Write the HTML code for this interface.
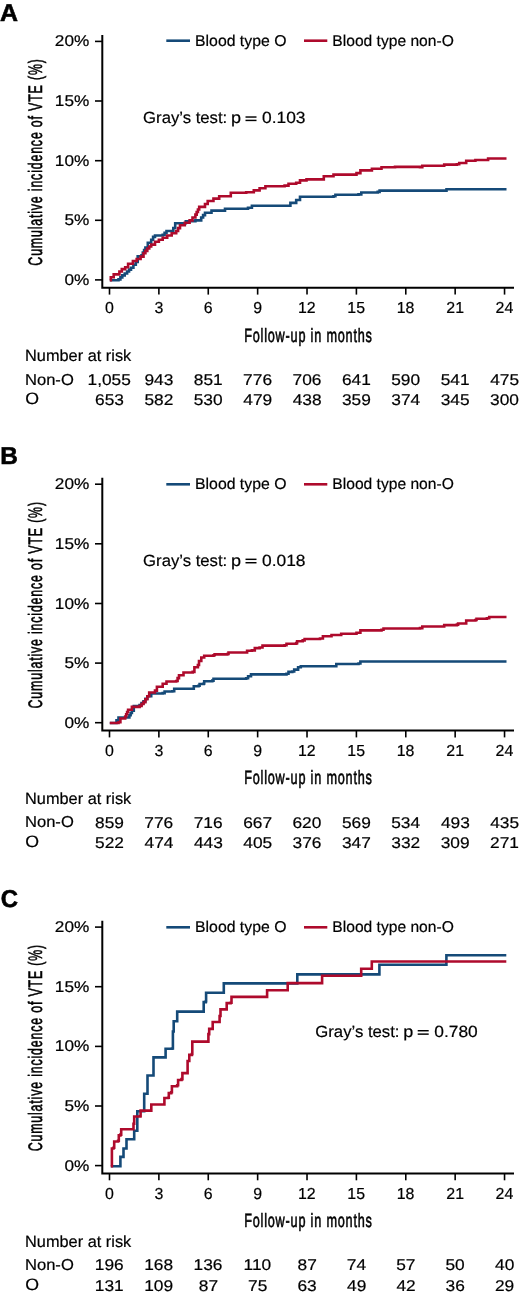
<!DOCTYPE html>
<html><head><meta charset="utf-8"><style>
html,body{margin:0;padding:0;background:#fff;}
svg{display:block;}
text{font-family:"Liberation Sans",sans-serif;fill:#000;text-rendering:geometricPrecision;stroke:#000;stroke-width:0.2px;}
</style></head><body>
<svg width="520" height="1295" viewBox="0 0 520 1295" style="will-change:transform">
<g transform="translate(0,0.00)">
<path d="M102.3,35 V287.7 H514" fill="none" stroke="#000" stroke-width="2.0"/>
<path d="M95,41.4 H102" stroke="#000" stroke-width="1.6"/>
<path d="M95,101.0 H102" stroke="#000" stroke-width="1.6"/>
<path d="M95,160.7 H102" stroke="#000" stroke-width="1.6"/>
<path d="M95,220.3 H102" stroke="#000" stroke-width="1.6"/>
<path d="M95,279.9 H102" stroke="#000" stroke-width="1.6"/>
<path d="M109.50,288 V294.6" stroke="#000" stroke-width="1.6"/>
<path d="M158.88,288 V294.6" stroke="#000" stroke-width="1.6"/>
<path d="M208.26,288 V294.6" stroke="#000" stroke-width="1.6"/>
<path d="M257.64,288 V294.6" stroke="#000" stroke-width="1.6"/>
<path d="M307.02,288 V294.6" stroke="#000" stroke-width="1.6"/>
<path d="M356.40,288 V294.6" stroke="#000" stroke-width="1.6"/>
<path d="M405.78,288 V294.6" stroke="#000" stroke-width="1.6"/>
<path d="M455.16,288 V294.6" stroke="#000" stroke-width="1.6"/>
<path d="M504.54,288 V294.6" stroke="#000" stroke-width="1.6"/>
<path d="M166.3,40.70 H190" stroke="#154a78" stroke-width="2.6"/>
<path d="M304,40.70 H327.3" stroke="#ae0a2c" stroke-width="2.6"/>
<rect x="245.50" y="116.30" width="11.0" height="1.45"/>
<rect x="245.50" y="119.70" width="11.0" height="1.45"/>
<path d="M109.80,280.20H118.50V279.40H120.40V277.40H122.30V275.40H124.70V273.45H127.10V271.50H129.05V269.60H131.00V267.70H133.40V264.80H135.80V261.90H137.70V256.20H141.50V255.20H142.80V252.63H144.10V250.07H145.40V247.50H147.80V242.70H151.20V239.80H153.10V236.90H155.00V235.50H162.70V234.80H164.60V232.90H166.50V231.00H173.30V228.00H175.20V223.30H185.80V221.30H195.40V220.40H201.20V217.50H203.10V215.10H205.00V212.70H211.50V210.60H225.00V208.70H248.00V207.70H251.90V205.80H284.60H290.40V202.90H296.20V200.00H300.00V196.70H333.50V196.20H335.40V194.80H358.50V194.40H361.30V192.50H377.70V191.90H379.60V190.60H395.00H445.40H446.50V189.30H506.50" fill="none" stroke="#154a78" stroke-width="2.6"/>
<path d="M109.80,280.20H110.80V277.30H113.70V274.40H119.40V271.50H121.80V269.10H125.20V267.20H128.10V263.80H132.90V261.00H136.70V259.00H140.60V256.60H143.50V253.30H145.40V250.90H147.30V248.50H149.25V246.55H151.20V244.60H155.00V241.70H158.85V239.70H162.70V237.70H167.20V235.47H171.70V233.23H176.20V231.00H178.10V228.10H180.00V225.20H184.80V222.80H189.60V220.40H192.50V217.50H195.40V214.60H196.67V212.03H197.93V209.47H199.20V206.90H205.00V204.00H207.70V201.00H213.45V198.60H219.20V196.20H230.80V192.70H246.20V192.30H253.80V190.40H259.60V188.30H265.40V186.20H284.60V185.60H288.50V183.70H296.20V182.70H300.00V180.40H306.50V179.40H320.00H323.80V176.20H333.50V174.60H356.50V173.10H360.40V170.40H371.90V168.80H381.50V167.30H395.00V166.90H420.00V167.20H422.30V165.80H441.90H444.20V164.60H456.90V164.20H459.20V163.00H463.80H466.20V160.70H475.40V160.00H488.10V158.50H506.50" fill="none" stroke="#ae0a2c" stroke-width="2.6"/>
<text transform="translate(-0.11,20.80) scale(1.0205,1)" font-size="24.4" font-weight="bold" style="stroke-width:0.6px">A</text>
<text transform="translate(54.81,46.45) scale(1.1100,1)" font-size="15.5">20%</text>
<text transform="translate(54.81,106.05) scale(1.1100,1)" font-size="15.5">15%</text>
<text transform="translate(54.81,165.75) scale(1.1100,1)" font-size="15.5">10%</text>
<text transform="translate(64.54,225.35) scale(1.1100,1)" font-size="15.5">5%</text>
<text transform="translate(64.54,284.95) scale(1.1100,1)" font-size="15.5">0%</text>
<text transform="translate(105.08,313.35) scale(1.0000,1)" font-size="15.9">0</text>
<text transform="translate(154.46,313.35) scale(1.0000,1)" font-size="15.9">3</text>
<text transform="translate(203.79,313.35) scale(1.0000,1)" font-size="15.9">6</text>
<text transform="translate(253.22,313.35) scale(1.0000,1)" font-size="15.9">9</text>
<text transform="translate(298.03,313.35) scale(1.0000,1)" font-size="15.9">12</text>
<text transform="translate(347.36,313.35) scale(1.0000,1)" font-size="15.9">15</text>
<text transform="translate(396.78,313.35) scale(1.0000,1)" font-size="15.9">18</text>
<text transform="translate(446.37,313.35) scale(1.0000,1)" font-size="15.9">21</text>
<text transform="translate(495.61,313.35) scale(1.0000,1)" font-size="15.9">24</text>
<text transform="translate(244.16,341.60) scale(0.6572,1)" font-size="19.3" letter-spacing="1.217" style="stroke-width:0.6px">Follow-up in months</text>
<text transform="translate(41.50,265.65) rotate(-90) scale(0.6380,1)" font-size="19.5" letter-spacing="1.254" style="stroke-width:0.6px">Cumulative incidence of VTE (%)</text>
<text transform="translate(195.03,45.50) scale(1.0141,1)" font-size="15.6">Blood type O</text>
<text transform="translate(332.35,45.50) scale(1.0009,1)" font-size="15.6">Blood type non-O</text>
<text transform="translate(143.08,123.25) scale(1.0321,1)" font-size="16.2">Gray’s test:</text>
<text transform="translate(231.02,123.25) scale(1.1129,1)" font-size="16.2">p</text>
<text transform="translate(262.05,123.25) scale(1.0736,1)" font-size="16.2">0.103</text>
<text transform="translate(25.04,361.20) scale(1.0089,1)" font-size="16.2">Number at risk</text>
<text transform="translate(24.97,384.60) scale(1.0491,1)" font-size="15.8">Non-O</text>
<text transform="translate(25.17,404.40) scale(1.0729,1)" font-size="16.5">O</text>
<text transform="translate(87.51,384.75) scale(1.1170,1)" font-size="15.5">1,055</text>
<text transform="translate(95.02,404.85) scale(1.1170,1)" font-size="15.5">653</text>
<text transform="translate(144.42,384.75) scale(1.1170,1)" font-size="15.5">943</text>
<text transform="translate(144.38,404.85) scale(1.1170,1)" font-size="15.5">582</text>
<text transform="translate(193.82,384.75) scale(1.1170,1)" font-size="15.5">851</text>
<text transform="translate(193.69,404.85) scale(1.1170,1)" font-size="15.5">530</text>
<text transform="translate(243.12,384.75) scale(1.1170,1)" font-size="15.5">776</text>
<text transform="translate(243.36,404.85) scale(1.1170,1)" font-size="15.5">479</text>
<text transform="translate(292.50,384.75) scale(1.1170,1)" font-size="15.5">706</text>
<text transform="translate(292.74,404.85) scale(1.1170,1)" font-size="15.5">438</text>
<text transform="translate(341.91,384.75) scale(1.1170,1)" font-size="15.5">641</text>
<text transform="translate(341.94,404.85) scale(1.1170,1)" font-size="15.5">359</text>
<text transform="translate(391.21,384.75) scale(1.1170,1)" font-size="15.5">590</text>
<text transform="translate(391.26,404.85) scale(1.1170,1)" font-size="15.5">374</text>
<text transform="translate(440.65,384.75) scale(1.1170,1)" font-size="15.5">541</text>
<text transform="translate(440.67,404.85) scale(1.1170,1)" font-size="15.5">345</text>
<text transform="translate(490.23,384.75) scale(1.1170,1)" font-size="15.5">475</text>
<text transform="translate(490.01,404.85) scale(1.1170,1)" font-size="15.5">300</text>
</g>
<g transform="translate(0,442.80)">
<path d="M102.3,35 V287.7 H514" fill="none" stroke="#000" stroke-width="2.0"/>
<path d="M95,41.4 H102" stroke="#000" stroke-width="1.6"/>
<path d="M95,101.0 H102" stroke="#000" stroke-width="1.6"/>
<path d="M95,160.7 H102" stroke="#000" stroke-width="1.6"/>
<path d="M95,220.3 H102" stroke="#000" stroke-width="1.6"/>
<path d="M95,279.9 H102" stroke="#000" stroke-width="1.6"/>
<path d="M109.50,288 V294.6" stroke="#000" stroke-width="1.6"/>
<path d="M158.88,288 V294.6" stroke="#000" stroke-width="1.6"/>
<path d="M208.26,288 V294.6" stroke="#000" stroke-width="1.6"/>
<path d="M257.64,288 V294.6" stroke="#000" stroke-width="1.6"/>
<path d="M307.02,288 V294.6" stroke="#000" stroke-width="1.6"/>
<path d="M356.40,288 V294.6" stroke="#000" stroke-width="1.6"/>
<path d="M405.78,288 V294.6" stroke="#000" stroke-width="1.6"/>
<path d="M455.16,288 V294.6" stroke="#000" stroke-width="1.6"/>
<path d="M504.54,288 V294.6" stroke="#000" stroke-width="1.6"/>
<path d="M166.3,41.50 H190" stroke="#154a78" stroke-width="2.6"/>
<path d="M304,41.50 H327.3" stroke="#ae0a2c" stroke-width="2.6"/>
<rect x="245.50" y="115.80" width="11.0" height="1.45"/>
<rect x="245.50" y="119.20" width="11.0" height="1.45"/>
<path d="M109.80,280.20H116.50V277.60H118.50V274.70H128.10H129.37V272.47H130.63V270.23H131.90V268.00H133.80V263.20H139.60V262.20H141.55V260.30H143.50V258.40H145.40V255.95H147.30V253.50H151.20V250.70H162.70V250.30H164.60V248.70H172.30V248.40H174.20V245.90H193.30H193.80V243.50H198.50V243.00H199.60V241.20H203.70V240.70H204.20V238.40H212.30V237.80H213.50V236.00H246.20V235.50H248.10V233.50H251.00V231.60H286.50V231.00H288.50V229.10H292.30V228.70H294.20V226.80H298.10V224.50H300.80V223.50H334.40H336.30V221.20H358.50V220.70H360.40V218.70H506.50" fill="none" stroke="#154a78" stroke-width="2.6"/>
<path d="M109.80,280.20H118.50V279.50H120.40V275.70H125.20V273.70H126.17V271.47H127.13V269.23H128.10V267.00H131.90V264.10H139.60V263.20H141.55V261.25H143.50V259.30H145.40V256.40H147.30V253.50H149.20V249.70H155.00V247.80H156.90V243.90H162.70V241.00H166.50V238.70H176.20V238.20H177.60V235.30H179.00V232.40H183.50V229.70H192.70V229.10H194.40V224.50H197.90V222.20H199.00V218.20H201.30V214.70H204.20V213.00H213.50V212.40H214.60V211.60H227.30V211.20H228.50V209.70H245.20H247.10V208.00H251.90V207.60H254.80V205.30H259.60V204.70H262.50V202.80H284.60V202.40H286.50V200.90H296.20V200.30H297.10V198.50H302.70V197.60H304.60V196.20H320.00V195.70H322.90V193.40H331.50V192.20H341.20V190.90H356.50V189.90H360.40V187.60H381.50V187.00H383.50V185.70H420.00V185.30H422.30V183.70H441.90H444.20V182.30H456.90V181.80H458.10V180.70H463.80H466.20V177.70H475.40V177.20H476.50V176.00H486.90V175.40H489.20V174.20H506.50" fill="none" stroke="#ae0a2c" stroke-width="2.6"/>
<text transform="translate(0.37,20.75) scale(1.0003,1)" font-size="24.4" font-weight="bold" style="stroke-width:0.6px">B</text>
<text transform="translate(54.81,46.45) scale(1.1100,1)" font-size="15.5">20%</text>
<text transform="translate(54.81,106.05) scale(1.1100,1)" font-size="15.5">15%</text>
<text transform="translate(54.81,165.75) scale(1.1100,1)" font-size="15.5">10%</text>
<text transform="translate(64.54,225.35) scale(1.1100,1)" font-size="15.5">5%</text>
<text transform="translate(64.54,284.95) scale(1.1100,1)" font-size="15.5">0%</text>
<text transform="translate(105.08,313.35) scale(1.0000,1)" font-size="15.9">0</text>
<text transform="translate(154.46,313.35) scale(1.0000,1)" font-size="15.9">3</text>
<text transform="translate(203.79,313.35) scale(1.0000,1)" font-size="15.9">6</text>
<text transform="translate(253.22,313.35) scale(1.0000,1)" font-size="15.9">9</text>
<text transform="translate(298.03,313.35) scale(1.0000,1)" font-size="15.9">12</text>
<text transform="translate(347.36,313.35) scale(1.0000,1)" font-size="15.9">15</text>
<text transform="translate(396.78,313.35) scale(1.0000,1)" font-size="15.9">18</text>
<text transform="translate(446.37,313.35) scale(1.0000,1)" font-size="15.9">21</text>
<text transform="translate(495.61,313.35) scale(1.0000,1)" font-size="15.9">24</text>
<text transform="translate(244.16,341.60) scale(0.6572,1)" font-size="19.3" letter-spacing="1.217" style="stroke-width:0.6px">Follow-up in months</text>
<text transform="translate(41.50,265.65) rotate(-90) scale(0.6380,1)" font-size="19.5" letter-spacing="1.254" style="stroke-width:0.6px">Cumulative incidence of VTE (%)</text>
<text transform="translate(195.03,46.30) scale(1.0141,1)" font-size="15.6">Blood type O</text>
<text transform="translate(332.35,46.30) scale(1.0009,1)" font-size="15.6">Blood type non-O</text>
<text transform="translate(143.08,122.75) scale(1.0321,1)" font-size="16.2">Gray’s test:</text>
<text transform="translate(231.02,122.75) scale(1.1129,1)" font-size="16.2">p</text>
<text transform="translate(262.05,122.75) scale(1.0730,1)" font-size="16.2">0.018</text>
<text transform="translate(25.04,361.20) scale(1.0089,1)" font-size="16.2">Number at risk</text>
<text transform="translate(24.97,384.60) scale(1.0491,1)" font-size="15.8">Non-O</text>
<text transform="translate(25.17,404.40) scale(1.0729,1)" font-size="16.5">O</text>
<text transform="translate(95.06,384.75) scale(1.1170,1)" font-size="15.5">859</text>
<text transform="translate(95.00,404.85) scale(1.1170,1)" font-size="15.5">522</text>
<text transform="translate(144.36,384.75) scale(1.1170,1)" font-size="15.5">776</text>
<text transform="translate(144.54,404.85) scale(1.1170,1)" font-size="15.5">474</text>
<text transform="translate(193.74,384.75) scale(1.1170,1)" font-size="15.5">716</text>
<text transform="translate(193.99,404.85) scale(1.1170,1)" font-size="15.5">443</text>
<text transform="translate(243.17,384.75) scale(1.1170,1)" font-size="15.5">667</text>
<text transform="translate(243.33,404.85) scale(1.1170,1)" font-size="15.5">405</text>
<text transform="translate(292.46,384.75) scale(1.1170,1)" font-size="15.5">620</text>
<text transform="translate(292.54,404.85) scale(1.1170,1)" font-size="15.5">376</text>
<text transform="translate(341.89,384.75) scale(1.1170,1)" font-size="15.5">569</text>
<text transform="translate(341.96,404.85) scale(1.1170,1)" font-size="15.5">347</text>
<text transform="translate(391.22,384.75) scale(1.1170,1)" font-size="15.5">534</text>
<text transform="translate(391.33,404.85) scale(1.1170,1)" font-size="15.5">332</text>
<text transform="translate(440.89,384.75) scale(1.1170,1)" font-size="15.5">493</text>
<text transform="translate(440.70,404.85) scale(1.1170,1)" font-size="15.5">309</text>
<text transform="translate(490.23,384.75) scale(1.1170,1)" font-size="15.5">435</text>
<text transform="translate(490.08,404.85) scale(1.1170,1)" font-size="15.5">271</text>
</g>
<g transform="translate(0,885.70)">
<path d="M102.3,35 V287.7 H514" fill="none" stroke="#000" stroke-width="2.0"/>
<path d="M95,41.4 H102" stroke="#000" stroke-width="1.6"/>
<path d="M95,101.0 H102" stroke="#000" stroke-width="1.6"/>
<path d="M95,160.7 H102" stroke="#000" stroke-width="1.6"/>
<path d="M95,220.3 H102" stroke="#000" stroke-width="1.6"/>
<path d="M95,279.9 H102" stroke="#000" stroke-width="1.6"/>
<path d="M109.50,288 V294.6" stroke="#000" stroke-width="1.6"/>
<path d="M158.88,288 V294.6" stroke="#000" stroke-width="1.6"/>
<path d="M208.26,288 V294.6" stroke="#000" stroke-width="1.6"/>
<path d="M257.64,288 V294.6" stroke="#000" stroke-width="1.6"/>
<path d="M307.02,288 V294.6" stroke="#000" stroke-width="1.6"/>
<path d="M356.40,288 V294.6" stroke="#000" stroke-width="1.6"/>
<path d="M405.78,288 V294.6" stroke="#000" stroke-width="1.6"/>
<path d="M455.16,288 V294.6" stroke="#000" stroke-width="1.6"/>
<path d="M504.54,288 V294.6" stroke="#000" stroke-width="1.6"/>
<path d="M166.3,41.60 H190" stroke="#154a78" stroke-width="2.6"/>
<path d="M304,41.60 H327.3" stroke="#ae0a2c" stroke-width="2.6"/>
<rect x="417.70" y="144.30" width="11.0" height="1.45"/>
<rect x="417.70" y="147.70" width="11.0" height="1.45"/>
<path d="M110.80,280.50H120.40V271.20H122.70H123.50V262.80H125.80H126.50V253.50H133.50H134.20V245.10H136.50H137.30V234.30V225.50H144.20V208.10H147.50V189.80H153.20H153.50V171.70H165.10H165.60V163.10H172.00V162.80H172.90V145.80H173.70V135.50H177.20V135.10V125.90H203.20H203.70V116.40H205.80V115.50H206.10V107.10H223.50H223.80V97.70H296.90H297.30V88.70H378.80H379.40V79.10H446.40V69.50H506.30" fill="none" stroke="#154a78" stroke-width="2.6"/>
<path d="M110.80,280.50H111.90V272.80V262.80H113.50V262.00H114.20V255.80H118.10V255.10H118.80V249.70H120.40V248.90H121.20V243.50H132.70H133.50V238.10H134.20V230.80H140.20V230.50H140.60V224.90H151.00H151.30V218.80H164.00H164.40V212.30H168.10V212.00H168.80V207.40H171.20V206.60H171.90V200.50H177.20V199.50H178.10V194.30H181.50V193.40H182.40V187.40H186.70H187.60V175.30H189.30V169.20H191.90V168.30H192.30V155.90H207.50H208.40V148.40H209.20V143.20H212.70V142.40V136.30H219.60V130.30H220.50V123.70H225.80H226.70V117.40H230.60V117.00H231.50V111.20H267.10V104.50H287.30H287.70V97.40H321.60H322.10V90.00H360.80H361.20V83.00H371.30H371.80V75.80H506.30" fill="none" stroke="#ae0a2c" stroke-width="2.6"/>
<text transform="translate(0.77,20.90) scale(0.9798,1)" font-size="24.4" font-weight="bold" style="stroke-width:0.6px">C</text>
<text transform="translate(54.81,46.45) scale(1.1100,1)" font-size="15.5">20%</text>
<text transform="translate(54.81,106.05) scale(1.1100,1)" font-size="15.5">15%</text>
<text transform="translate(54.81,165.75) scale(1.1100,1)" font-size="15.5">10%</text>
<text transform="translate(64.54,225.35) scale(1.1100,1)" font-size="15.5">5%</text>
<text transform="translate(64.54,284.95) scale(1.1100,1)" font-size="15.5">0%</text>
<text transform="translate(105.08,313.35) scale(1.0000,1)" font-size="15.9">0</text>
<text transform="translate(154.46,313.35) scale(1.0000,1)" font-size="15.9">3</text>
<text transform="translate(203.79,313.35) scale(1.0000,1)" font-size="15.9">6</text>
<text transform="translate(253.22,313.35) scale(1.0000,1)" font-size="15.9">9</text>
<text transform="translate(298.03,313.35) scale(1.0000,1)" font-size="15.9">12</text>
<text transform="translate(347.36,313.35) scale(1.0000,1)" font-size="15.9">15</text>
<text transform="translate(396.78,313.35) scale(1.0000,1)" font-size="15.9">18</text>
<text transform="translate(446.37,313.35) scale(1.0000,1)" font-size="15.9">21</text>
<text transform="translate(495.61,313.35) scale(1.0000,1)" font-size="15.9">24</text>
<text transform="translate(244.16,341.60) scale(0.6572,1)" font-size="19.3" letter-spacing="1.217" style="stroke-width:0.6px">Follow-up in months</text>
<text transform="translate(41.50,265.65) rotate(-90) scale(0.6380,1)" font-size="19.5" letter-spacing="1.254" style="stroke-width:0.6px">Cumulative incidence of VTE (%)</text>
<text transform="translate(195.03,46.40) scale(1.0141,1)" font-size="15.6">Blood type O</text>
<text transform="translate(332.35,46.40) scale(1.0009,1)" font-size="15.6">Blood type non-O</text>
<text transform="translate(315.28,151.25) scale(1.0321,1)" font-size="16.2">Gray’s test:</text>
<text transform="translate(403.22,151.25) scale(1.1129,1)" font-size="16.2">p</text>
<text transform="translate(434.25,151.25) scale(1.0723,1)" font-size="16.2">0.780</text>
<text transform="translate(25.04,361.20) scale(1.0089,1)" font-size="16.2">Number at risk</text>
<text transform="translate(24.97,384.60) scale(1.0491,1)" font-size="15.8">Non-O</text>
<text transform="translate(25.17,404.40) scale(1.0729,1)" font-size="16.5">O</text>
<text transform="translate(94.78,384.75) scale(1.1170,1)" font-size="15.5">196</text>
<text transform="translate(94.80,404.85) scale(1.1170,1)" font-size="15.5">131</text>
<text transform="translate(144.18,384.75) scale(1.1170,1)" font-size="15.5">168</text>
<text transform="translate(144.18,404.85) scale(1.1170,1)" font-size="15.5">109</text>
<text transform="translate(193.54,384.75) scale(1.1170,1)" font-size="15.5">136</text>
<text transform="translate(198.76,404.85) scale(1.1170,1)" font-size="15.5">87</text>
<text transform="translate(243.57,384.75) scale(1.1170,1)" font-size="15.5">110</text>
<text transform="translate(248.00,404.85) scale(1.1170,1)" font-size="15.5">75</text>
<text transform="translate(297.52,384.75) scale(1.1170,1)" font-size="15.5">87</text>
<text transform="translate(297.42,404.85) scale(1.1170,1)" font-size="15.5">63</text>
<text transform="translate(346.80,384.75) scale(1.1170,1)" font-size="15.5">74</text>
<text transform="translate(347.01,404.85) scale(1.1170,1)" font-size="15.5">49</text>
<text transform="translate(396.22,384.75) scale(1.1170,1)" font-size="15.5">57</text>
<text transform="translate(396.40,404.85) scale(1.1170,1)" font-size="15.5">42</text>
<text transform="translate(445.48,384.75) scale(1.1170,1)" font-size="15.5">50</text>
<text transform="translate(445.57,404.85) scale(1.1170,1)" font-size="15.5">36</text>
<text transform="translate(495.08,384.75) scale(1.1170,1)" font-size="15.5">40</text>
<text transform="translate(494.97,404.85) scale(1.1170,1)" font-size="15.5">29</text>
</g>
</svg>
</body></html>
